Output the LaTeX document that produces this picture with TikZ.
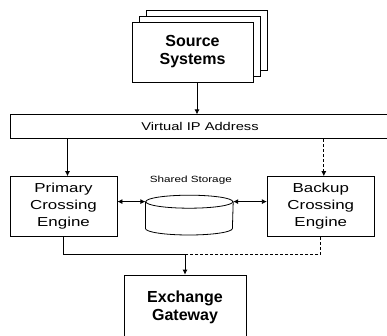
\documentclass[tikz,border=0pt]{standalone}
\usepackage{fontspec}
\setmainfont{Liberation Sans}
\newfontfamily\widefont{Liberation Sans}[FakeStretch=1.3]
\usetikzlibrary{positioning,shadows,arrows.meta}

\begin{document}
\begin{tikzpicture}[x=1pt, y=-1pt,
>={Latex[length=5pt,width=5pt]},
every path/.style={line width=0.8pt},
engine/.style={rectangle, draw=black, fill=white, align=center, inner sep=0pt, minimum width=107pt, minimum height=60pt, font=\widefont\fontsize{13}{17}\selectfont},
system/.style={rectangle, draw=black, fill=white, align=center, inner sep=0pt, minimum width=122pt, minimum height=60pt, font=\bfseries\fontsize{16}{18}\selectfont},
storage/.style={rectangle, inner sep=0pt, minimum width=87pt, minimum height=39pt},
backup/.style={->, dash pattern=on 3pt off 2pt}
]
\useasboundingbox (0,0) rectangle (387,336);

\node[system, minimum width=121pt, double copy shadow={shadow xshift=7pt, shadow yshift=6pt, draw=black, fill=white}](src) at (192.5,52) {Source\\Systems};

\node[rectangle, draw=black, minimum width=380pt, minimum height=24pt, inner sep=0pt, font=\widefont\fontsize{11.3}{13}\selectfont](vip)[below=32pt of src, xshift=7.5pt]{Virtual IP Address};

\node[engine](prim)[below right=37pt and 0pt of vip.south west]{Primary\\Crossing\\Engine};
\node[engine](bkp)[right=149.5pt of prim]{Backup\\Crossing\\Engine};

% disk drawn over its node
\node[storage](store)[right=28pt of prim, yshift=-8.5pt]{};
\draw ([yshift=-6.5pt]store.north west) -- ([yshift=6.5pt]store.south west)
  arc[start angle=180, end angle=360, x radius=43.5pt, y radius=6.5pt]
  -- ([yshift=-6.5pt]store.north east);
\draw ([yshift=-6.5pt]store.north) ellipse[x radius=43.5pt, y radius=6.5pt];
\node[font=\widefont\fontsize{9}{11}\selectfont, inner sep=0pt](shared)[above=10pt of store, xshift=1.5pt]{Shared Storage};

\node[system, minimum height=65pt](gw) at (185,307.5) {Exchange\\Gateway};
\coordinate[above=20pt of gw.north](join);

\draw[->] ([xshift=4.5pt]src.south) -- ([xshift=4.5pt]src.south |- vip.north);
\draw[->] ([xshift=4pt]prim.north |- vip.south) -- ([xshift=4pt]prim.north);
\draw[backup] ([xshift=3pt]bkp.north |- vip.south) -- ([xshift=3pt]bkp.north);

\draw[<->] ([yshift=5pt]prim.east) -- ([yshift=5pt]prim.east -| store.west);
\draw[<->] ([yshift=5pt]bkp.west -| store.east) -- ([yshift=5pt]bkp.west);

\draw (prim.south) |- (join);
\draw[dash pattern=on 3pt off 2pt] (bkp.south) |- (join);
\draw[->] (join) -- (gw.north);
\end{tikzpicture}
\end{document}
